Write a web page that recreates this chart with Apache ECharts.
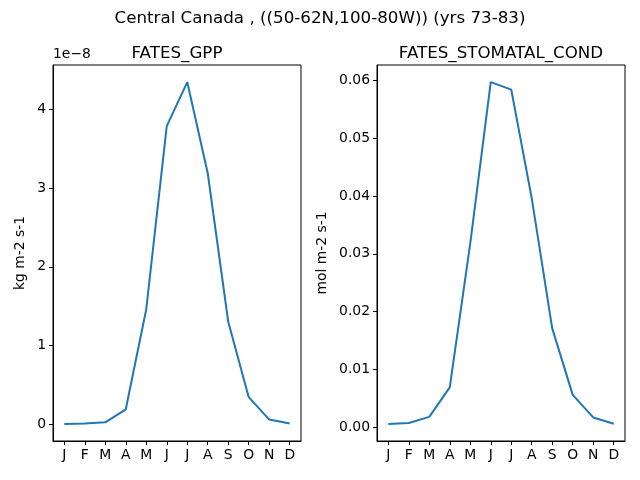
<!DOCTYPE html>
<html>
<head>
<meta charset="utf-8">
<script src="https://cdn.jsdelivr.net/npm/echarts@6/dist/echarts.min.js"></script>
<style>
	html, body { margin: 0; padding: 0; background: #fff; }
	#main { width: 640px; height: 480px; }
</style>
</head>
<body>
<div id="main"></div>
<script>
var months = ['J', 'F', 'M', 'A', 'M', 'J', 'J', 'A', 'S', 'O', 'N', 'D'];
// GPP in units of 1e-8 kg m-2 s-1
var gppE8 = [0.0, 0.005, 0.02, 0.186, 1.46, 3.79, 4.35, 3.19, 1.30, 0.34, 0.055, 0.004];
// stomatal conductance, mol m-2 s-1
var stomatal = [0.00058, 0.00075, 0.0018, 0.0069, 0.0318, 0.0597, 0.0584, 0.0396, 0.0171, 0.0056, 0.0017, 0.0006];
var gppTicks = [0, 1, 2, 3, 4];
var stomTicks = [0, 0.01, 0.02, 0.03, 0.04, 0.05, 0.06];
var monthIdx = months.map(function(m, i) { return i; });

var FONT = 'DejaVu Sans';
var BLUE = '#1f77b4';

function pairs(vals) {
	return vals.map(function(v, i) { return [i, v]; });
}

// matplotlib style 5% margins
function padRange(vals) {
	var lo = Math.min.apply(null, vals), hi = Math.max.apply(null, vals);
	var m = (hi - lo) * 0.05;
	return [lo - m, hi + m];
}

function xAxisFor(gi) {
	return {
		type: 'value',
		gridIndex: gi,
		min: -0.55,
		max: 11.55,
		splitLine: { show: false },
		axisLine: { show: true, onZero: false, lineStyle: { color: '#000', width: 1 } },
		axisTick: { show: true, length: 4, customValues: monthIdx, lineStyle: { color: '#000' } },
		axisLabel: {
			customValues: monthIdx,
			margin: 7,
			color: '#000',
			fontFamily: FONT,
			fontSize: 13.9,
			formatter: function(v) { return months[Math.round(v)]; }
		}
	};
}

function yAxisFor(gi, vals, ticks, name, gap, fmt) {
	var r = padRange(vals);
	return {
		type: 'value',
		gridIndex: gi,
		min: r[0],
		max: r[1],
		name: name,
		nameLocation: 'middle',
		nameRotate: 90,
		nameGap: gap,
		nameTextStyle: { color: '#000', fontFamily: FONT, fontSize: 13.9 },
		splitLine: { show: false },
		axisLine: { show: true, onZero: false, lineStyle: { color: '#000', width: 1 } },
		axisTick: { show: true, length: 4, customValues: ticks, lineStyle: { color: '#000' } },
		axisLabel: {
			customValues: ticks,
			margin: 7,
			color: '#000',
			fontFamily: FONT,
			fontSize: 13.9,
			formatter: fmt
		}
	};
}

var chart = echarts.init(document.getElementById('main'), null, { renderer: 'canvas' });
chart.setOption({
	animation: false,
	backgroundColor: '#fff',
	title: [
		{ text: 'Central Canada , ((50-62N,100-80W)) (yrs 73-83)', left: 315, top: 5, textAlign: 'center',
			textStyle: { fontFamily: FONT, fontSize: 16.7, fontWeight: 'normal', color: '#000' } },
		{ text: 'FATES_GPP', left: 172, top: 40, textAlign: 'center',
			textStyle: { fontFamily: FONT, fontSize: 16.7, fontWeight: 'normal', color: '#000' } },
		{ text: 'FATES_STOMATAL_COND', left: 496, top: 40, textAlign: 'center',
			textStyle: { fontFamily: FONT, fontSize: 16.7, fontWeight: 'normal', color: '#000' } }
	],
	graphic: [{
		type: 'text', left: 53, top: 47,
		style: { text: '1e\u22128', fontFamily: FONT, fontSize: 13.9, fill: '#000' }
	}],
	grid: [
		{ left: 53, right: 339, top: 65, bottom: 39, show: true, borderColor: '#000', borderWidth: 1 },
		{ left: 377, right: 15, top: 65, bottom: 39, show: true, borderColor: '#000', borderWidth: 1 }
	],
	xAxis: [xAxisFor(0), xAxisFor(1)],
	yAxis: [
		yAxisFor(0, gppE8, gppTicks, 'kg m-2 s-1', 26, function(v) { return String(Math.round(v)); }),
		yAxisFor(1, stomatal, stomTicks, 'mol m-2 s-1', 48, function(v) { return v.toFixed(2); })
	],
	series: [
		{ type: 'line', xAxisIndex: 0, yAxisIndex: 0, data: pairs(gppE8), symbol: 'none',
			lineStyle: { color: BLUE, width: 2 } },
		{ type: 'line', xAxisIndex: 1, yAxisIndex: 1, data: pairs(stomatal), symbol: 'none',
			lineStyle: { color: BLUE, width: 2 } }
	]
});
</script>
</body>
</html>
